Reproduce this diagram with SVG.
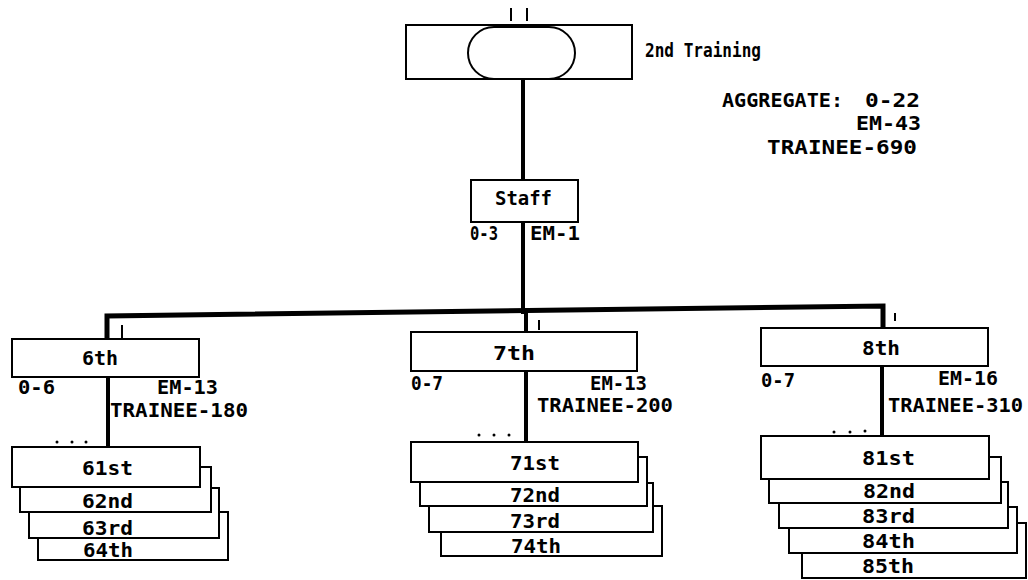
<svg xmlns="http://www.w3.org/2000/svg" width="1028" height="580" viewBox="0 0 1028 580">
<style>
.bx{fill:#fff;stroke:#000;stroke-width:2}
.ln{fill:none;stroke:#000;stroke-linecap:square}
.tk{stroke:#000;stroke-width:2}
.t{font-family:"DejaVu Sans Mono","Liberation Mono",monospace;font-weight:bold;font-size:19px;fill:#000}
.dot{fill:#000}
</style>
<rect width="1028" height="580" fill="#fff"/>
<g id="connectors">
<path class="ln" d="M523,79 V180" stroke-width="4"/>
<path class="ln" d="M523,222 V312" stroke-width="4"/>
<path class="ln" d="M107,339 V316 L883,306 V328" stroke-width="5" stroke-linejoin="miter"/>
<path class="ln" d="M526,311 V332" stroke-width="4"/>
<path class="ln" d="M108,377 V447" stroke-width="4"/>
<path class="ln" d="M526,371 V442" stroke-width="4"/>
<path class="ln" d="M882,366 V436" stroke-width="4"/>
</g>
<g id="top">
<rect class="bx" x="406" y="25" width="226" height="54"/>
<rect class="bx" x="468" y="27" width="107" height="52" rx="26" ry="26"/>
<line class="tk" x1="511" y1="8" x2="511" y2="21"/>
<line class="tk" x1="527" y1="8" x2="527" y2="21"/>
<text class="t" x="645" y="57" textLength="116" lengthAdjust="spacingAndGlyphs">2nd Training</text>
</g>
<g id="aggregate">
<text class="t" x="722" y="107" textLength="121" lengthAdjust="spacingAndGlyphs">AGGREGATE:</text>
<text class="t" x="865" y="107" textLength="55" lengthAdjust="spacingAndGlyphs">0-22</text>
<text class="t" x="856" y="130" textLength="65" lengthAdjust="spacingAndGlyphs">EM-43</text>
<text class="t" x="767" y="154" textLength="150" lengthAdjust="spacingAndGlyphs">TRAINEE-690</text>
</g>
<g id="staff">
<rect class="bx" x="471" y="180" width="107" height="42"/>
<text class="t" x="495" y="205" textLength="57" lengthAdjust="spacingAndGlyphs">Staff</text>
<text class="t" x="470" y="240" textLength="28" lengthAdjust="spacingAndGlyphs">0-3</text>
<text class="t" x="530" y="240" textLength="50" lengthAdjust="spacingAndGlyphs">EM-1</text>
</g>
<g id="n6th">
<line class="tk" x1="122" y1="325" x2="122" y2="338"/>
<rect class="bx" x="12" y="339" width="187" height="38"/>
<text class="t" x="82" y="365" textLength="36" lengthAdjust="spacingAndGlyphs">6th</text>
<text class="t" x="18" y="394" textLength="37" lengthAdjust="spacingAndGlyphs">0-6</text>
<text class="t" x="157" y="394" textLength="61" lengthAdjust="spacingAndGlyphs">EM-13</text>
<text class="t" x="110" y="417" textLength="138" lengthAdjust="spacingAndGlyphs">TRAINEE-180</text>
<circle class="dot" cx="57" cy="442" r="1.5"/><circle class="dot" cx="72" cy="442" r="1.5"/><circle class="dot" cx="86" cy="442" r="1.5"/>
</g>
<g id="n64th"><rect class="bx" x="38" y="512" width="190" height="48"/><text class="t" x="83" y="557" textLength="50" lengthAdjust="spacingAndGlyphs">64th</text></g>
<g id="n63rd"><rect class="bx" x="29" y="488" width="190" height="50"/><text class="t" x="82" y="535" textLength="51" lengthAdjust="spacingAndGlyphs">63rd</text></g>
<g id="n62nd"><rect class="bx" x="20" y="467" width="191" height="45"/><text class="t" x="82" y="508" textLength="51" lengthAdjust="spacingAndGlyphs">62nd</text></g>
<g id="n61st"><rect class="bx" x="12" y="447" width="188" height="40"/><text class="t" x="82" y="475" textLength="51" lengthAdjust="spacingAndGlyphs">61st</text></g>
<g id="n7th">
<line class="tk" x1="539" y1="320" x2="539" y2="330"/>
<rect class="bx" x="411" y="332" width="226" height="39"/>
<text class="t" x="493" y="360" textLength="42" lengthAdjust="spacingAndGlyphs">7th</text>
<text class="t" x="411" y="390" textLength="32" lengthAdjust="spacingAndGlyphs">0-7</text>
<text class="t" x="590" y="390" textLength="57" lengthAdjust="spacingAndGlyphs">EM-13</text>
<text class="t" x="537" y="412" textLength="136" lengthAdjust="spacingAndGlyphs">TRAINEE-200</text>
<circle class="dot" cx="479" cy="435" r="1.5"/><circle class="dot" cx="494" cy="435" r="1.5"/><circle class="dot" cx="509" cy="435" r="1.5"/>
</g>
<g id="n74th"><rect class="bx" x="441" y="506" width="221" height="50"/><text class="t" x="511" y="553" textLength="50" lengthAdjust="spacingAndGlyphs">74th</text></g>
<g id="n73rd"><rect class="bx" x="429" y="483" width="224" height="49"/><text class="t" x="510" y="528" textLength="50" lengthAdjust="spacingAndGlyphs">73rd</text></g>
<g id="n72nd"><rect class="bx" x="420" y="457" width="227" height="49"/><text class="t" x="510" y="502" textLength="50" lengthAdjust="spacingAndGlyphs">72nd</text></g>
<g id="n71st"><rect class="bx" x="411" y="442" width="227" height="40"/><text class="t" x="510" y="470" textLength="50" lengthAdjust="spacingAndGlyphs">71st</text></g>
<g id="n8th">
<line class="tk" x1="895" y1="313" x2="895" y2="321"/>
<rect class="bx" x="761" y="328" width="227" height="38"/>
<text class="t" x="862" y="355" textLength="38" lengthAdjust="spacingAndGlyphs">8th</text>
<text class="t" x="761" y="387" textLength="34" lengthAdjust="spacingAndGlyphs">0-7</text>
<text class="t" x="938" y="385" textLength="60" lengthAdjust="spacingAndGlyphs">EM-16</text>
<text class="t" x="888" y="412" textLength="135" lengthAdjust="spacingAndGlyphs">TRAINEE-310</text>
<circle class="dot" cx="834" cy="432" r="1.5"/><circle class="dot" cx="850" cy="432" r="1.5"/><circle class="dot" cx="865" cy="431" r="1.5"/>
</g>
<g id="n85th"><rect class="bx" x="802" y="523" width="224" height="55"/><text class="t" x="862" y="573" textLength="52" lengthAdjust="spacingAndGlyphs">85th</text></g>
<g id="n84th"><rect class="bx" x="789" y="507" width="228" height="46"/><text class="t" x="862" y="548" textLength="53" lengthAdjust="spacingAndGlyphs">84th</text></g>
<g id="n83rd"><rect class="bx" x="779" y="482" width="229" height="46"/><text class="t" x="862" y="523" textLength="53" lengthAdjust="spacingAndGlyphs">83rd</text></g>
<g id="n82nd"><rect class="bx" x="769" y="457" width="232" height="46"/><text class="t" x="863" y="498" textLength="52" lengthAdjust="spacingAndGlyphs">82nd</text></g>
<g id="n81st"><rect class="bx" x="761" y="436" width="228" height="43"/><text class="t" x="862" y="465" textLength="53" lengthAdjust="spacingAndGlyphs">81st</text></g>
</svg>
